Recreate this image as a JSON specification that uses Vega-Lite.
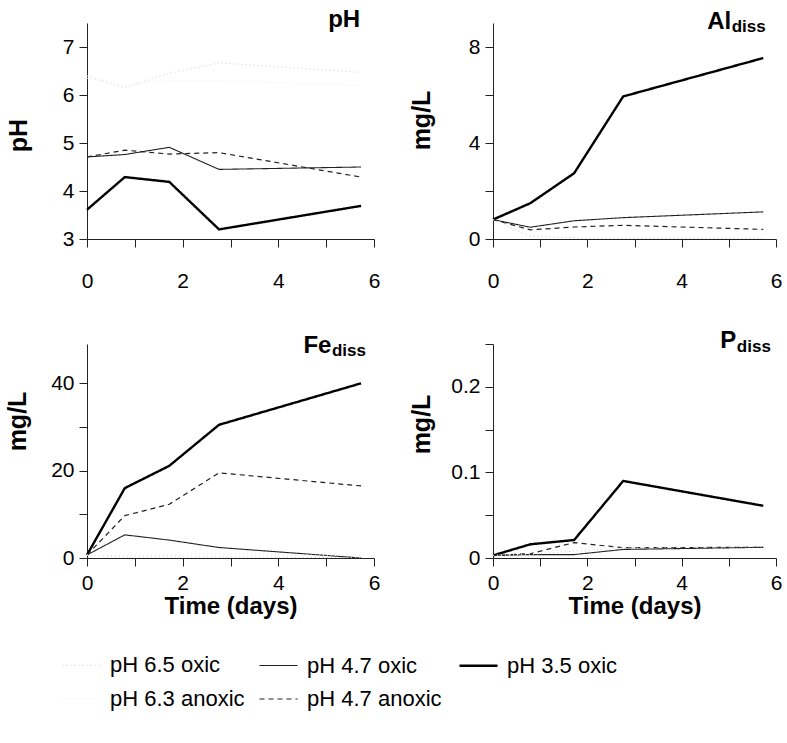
{
  "$schema": "https://vega.github.io/schema/vega-lite/v6.json",
  "padding": {"left": 5, "top": 8, "right": 5, "bottom": 5},
  "background": "white",
  "datasets": {
    "d": [
      {"panel": "pH", "series": "pH 3.5 oxic", "t": 0, "v": 3.61},
      {"panel": "pH", "series": "pH 3.5 oxic", "t": 0.79, "v": 4.29},
      {"panel": "pH", "series": "pH 3.5 oxic", "t": 1.72, "v": 4.19},
      {"panel": "pH", "series": "pH 3.5 oxic", "t": 2.76, "v": 3.2},
      {"panel": "pH", "series": "pH 3.5 oxic", "t": 5.73, "v": 3.69},
      {"panel": "pH", "series": "pH 4.7 oxic", "t": 0, "v": 4.71},
      {"panel": "pH", "series": "pH 4.7 oxic", "t": 0.79, "v": 4.76},
      {"panel": "pH", "series": "pH 4.7 oxic", "t": 1.72, "v": 4.91},
      {"panel": "pH", "series": "pH 4.7 oxic", "t": 2.76, "v": 4.45},
      {"panel": "pH", "series": "pH 4.7 oxic", "t": 5.73, "v": 4.5},
      {"panel": "pH", "series": "pH 4.7 anoxic", "t": 0, "v": 4.71},
      {"panel": "pH", "series": "pH 4.7 anoxic", "t": 0.79, "v": 4.85},
      {"panel": "pH", "series": "pH 4.7 anoxic", "t": 1.72, "v": 4.77},
      {"panel": "pH", "series": "pH 4.7 anoxic", "t": 2.76, "v": 4.8},
      {"panel": "pH", "series": "pH 4.7 anoxic", "t": 5.73, "v": 4.29},
      {"panel": "pH", "series": "pH 6.5 oxic", "t": 0, "v": 6.4},
      {"panel": "pH", "series": "pH 6.5 oxic", "t": 0.79, "v": 6.15},
      {"panel": "pH", "series": "pH 6.5 oxic", "t": 1.72, "v": 6.45},
      {"panel": "pH", "series": "pH 6.5 oxic", "t": 2.76, "v": 6.67},
      {"panel": "pH", "series": "pH 6.5 oxic", "t": 5.73, "v": 6.47},
      {"panel": "pH", "series": "pH 6.3 anoxic", "t": 0, "v": 6.35},
      {"panel": "pH", "series": "pH 6.3 anoxic", "t": 0.79, "v": 6.2},
      {"panel": "pH", "series": "pH 6.3 anoxic", "t": 1.72, "v": 6.3},
      {"panel": "pH", "series": "pH 6.3 anoxic", "t": 2.76, "v": 6.3},
      {"panel": "pH", "series": "pH 6.3 anoxic", "t": 5.73, "v": 6.2},
      {"panel": "Al", "series": "pH 3.5 oxic", "t": 0, "v": 0.81},
      {"panel": "Al", "series": "pH 3.5 oxic", "t": 0.79, "v": 1.49},
      {"panel": "Al", "series": "pH 3.5 oxic", "t": 1.72, "v": 2.74},
      {"panel": "Al", "series": "pH 3.5 oxic", "t": 2.76, "v": 5.94},
      {"panel": "Al", "series": "pH 3.5 oxic", "t": 5.73, "v": 7.54},
      {"panel": "Al", "series": "pH 4.7 oxic", "t": 0, "v": 0.81},
      {"panel": "Al", "series": "pH 4.7 oxic", "t": 0.79, "v": 0.49},
      {"panel": "Al", "series": "pH 4.7 oxic", "t": 1.72, "v": 0.76},
      {"panel": "Al", "series": "pH 4.7 oxic", "t": 2.76, "v": 0.89},
      {"panel": "Al", "series": "pH 4.7 oxic", "t": 5.73, "v": 1.13},
      {"panel": "Al", "series": "pH 4.7 anoxic", "t": 0, "v": 0.81},
      {"panel": "Al", "series": "pH 4.7 anoxic", "t": 0.79, "v": 0.38},
      {"panel": "Al", "series": "pH 4.7 anoxic", "t": 1.72, "v": 0.5},
      {"panel": "Al", "series": "pH 4.7 anoxic", "t": 2.76, "v": 0.57},
      {"panel": "Al", "series": "pH 4.7 anoxic", "t": 5.73, "v": 0.4},
      {"panel": "Al", "series": "pH 6.5 oxic", "t": 0, "v": 0.81},
      {"panel": "Al", "series": "pH 6.5 oxic", "t": 0.79, "v": 0.1},
      {"panel": "Al", "series": "pH 6.5 oxic", "t": 1.72, "v": 0.05},
      {"panel": "Al", "series": "pH 6.5 oxic", "t": 2.76, "v": 0.03},
      {"panel": "Al", "series": "pH 6.5 oxic", "t": 5.73, "v": 0.02},
      {"panel": "Al", "series": "pH 6.3 anoxic", "t": 0, "v": 0.81},
      {"panel": "Al", "series": "pH 6.3 anoxic", "t": 0.79, "v": 0.15},
      {"panel": "Al", "series": "pH 6.3 anoxic", "t": 1.72, "v": 0.06},
      {"panel": "Al", "series": "pH 6.3 anoxic", "t": 2.76, "v": 0.05},
      {"panel": "Al", "series": "pH 6.3 anoxic", "t": 5.73, "v": 0.03},
      {"panel": "Fe", "series": "pH 3.5 oxic", "t": 0, "v": 0.7},
      {"panel": "Fe", "series": "pH 3.5 oxic", "t": 0.79, "v": 16.0},
      {"panel": "Fe", "series": "pH 3.5 oxic", "t": 1.72, "v": 21.1},
      {"panel": "Fe", "series": "pH 3.5 oxic", "t": 2.76, "v": 30.5},
      {"panel": "Fe", "series": "pH 3.5 oxic", "t": 5.73, "v": 40.0},
      {"panel": "Fe", "series": "pH 4.7 oxic", "t": 0, "v": 0.7},
      {"panel": "Fe", "series": "pH 4.7 oxic", "t": 0.79, "v": 5.3},
      {"panel": "Fe", "series": "pH 4.7 oxic", "t": 1.72, "v": 4.1},
      {"panel": "Fe", "series": "pH 4.7 oxic", "t": 2.76, "v": 2.4},
      {"panel": "Fe", "series": "pH 4.7 oxic", "t": 5.73, "v": 0.0},
      {"panel": "Fe", "series": "pH 4.7 anoxic", "t": 0, "v": 0.7},
      {"panel": "Fe", "series": "pH 4.7 anoxic", "t": 0.79, "v": 9.7},
      {"panel": "Fe", "series": "pH 4.7 anoxic", "t": 1.72, "v": 12.3},
      {"panel": "Fe", "series": "pH 4.7 anoxic", "t": 2.76, "v": 19.5},
      {"panel": "Fe", "series": "pH 4.7 anoxic", "t": 5.73, "v": 16.5},
      {"panel": "Fe", "series": "pH 6.5 oxic", "t": 0, "v": 0.7},
      {"panel": "Fe", "series": "pH 6.5 oxic", "t": 0.79, "v": 0.2},
      {"panel": "Fe", "series": "pH 6.5 oxic", "t": 1.72, "v": 0.2},
      {"panel": "Fe", "series": "pH 6.5 oxic", "t": 2.76, "v": 0.2},
      {"panel": "Fe", "series": "pH 6.5 oxic", "t": 5.73, "v": 0.1},
      {"panel": "Fe", "series": "pH 6.3 anoxic", "t": 0, "v": 0.7},
      {"panel": "Fe", "series": "pH 6.3 anoxic", "t": 0.79, "v": 0.5},
      {"panel": "Fe", "series": "pH 6.3 anoxic", "t": 1.72, "v": 0.8},
      {"panel": "Fe", "series": "pH 6.3 anoxic", "t": 2.76, "v": 1.0},
      {"panel": "Fe", "series": "pH 6.3 anoxic", "t": 5.73, "v": 0.5},
      {"panel": "P", "series": "pH 3.5 oxic", "t": 0, "v": 0.003},
      {"panel": "P", "series": "pH 3.5 oxic", "t": 0.79, "v": 0.016},
      {"panel": "P", "series": "pH 3.5 oxic", "t": 1.72, "v": 0.021},
      {"panel": "P", "series": "pH 3.5 oxic", "t": 2.76, "v": 0.09},
      {"panel": "P", "series": "pH 3.5 oxic", "t": 5.73, "v": 0.061},
      {"panel": "P", "series": "pH 4.7 oxic", "t": 0, "v": 0.003},
      {"panel": "P", "series": "pH 4.7 oxic", "t": 0.79, "v": 0.004},
      {"panel": "P", "series": "pH 4.7 oxic", "t": 1.72, "v": 0.004},
      {"panel": "P", "series": "pH 4.7 oxic", "t": 2.76, "v": 0.01},
      {"panel": "P", "series": "pH 4.7 oxic", "t": 5.73, "v": 0.0125},
      {"panel": "P", "series": "pH 4.7 anoxic", "t": 0, "v": 0.003},
      {"panel": "P", "series": "pH 4.7 anoxic", "t": 0.79, "v": 0.005},
      {"panel": "P", "series": "pH 4.7 anoxic", "t": 1.72, "v": 0.018},
      {"panel": "P", "series": "pH 4.7 anoxic", "t": 2.76, "v": 0.012},
      {"panel": "P", "series": "pH 4.7 anoxic", "t": 5.73, "v": 0.0125},
      {"panel": "P", "series": "pH 6.5 oxic", "t": 0, "v": 0.003},
      {"panel": "P", "series": "pH 6.5 oxic", "t": 0.79, "v": 0.004},
      {"panel": "P", "series": "pH 6.5 oxic", "t": 1.72, "v": 0.008},
      {"panel": "P", "series": "pH 6.5 oxic", "t": 2.76, "v": 0.012},
      {"panel": "P", "series": "pH 6.5 oxic", "t": 5.73, "v": 0.013},
      {"panel": "P", "series": "pH 6.3 anoxic", "t": 0, "v": 0.003},
      {"panel": "P", "series": "pH 6.3 anoxic", "t": 0.79, "v": 0.005},
      {"panel": "P", "series": "pH 6.3 anoxic", "t": 1.72, "v": 0.012},
      {"panel": "P", "series": "pH 6.3 anoxic", "t": 2.76, "v": 0.013},
      {"panel": "P", "series": "pH 6.3 anoxic", "t": 5.73, "v": 0.014}
    ]
  },
  "columns": 2,
  "bounds": "flush",
  "spacing": {"row": 105, "column": 119},
  "concat": [
    {
      "width": 287, "height": 216,
      "layer": [
        {
          "data": {"name": "d"},
          "transform": [{"filter": "datum.panel == 'pH'"}],
          "mark": {"type": "line"},
          "encoding": {
            "x": {"field": "t", "type": "quantitative", "scale": {"domain": [0, 6], "nice": false},
                  "axis": {"title": null, "values": [0,1,2,3,4,5,6], "labelPadding": 23, "labelExpr": "datum.value % 2 == 0 ? datum.label : ''"}},
            "y": {"field": "v", "type": "quantitative", "scale": {"domain": [3, 7.5], "nice": false, "zero": false},
                  "axis": {"title": "pH", "values": [3,3.5,4,4.5,5,5.5,6,6.5,7,7.5], "labelExpr": "datum.value % 1 == 0 ? datum.label : ''", "titleX": -56, "titleY": 112}},
            "color": {"field": "series", "type": "nominal", "scale": {"domain": ["pH 6.5 oxic","pH 4.7 oxic","pH 3.5 oxic","pH 6.3 anoxic","pH 4.7 anoxic"], "range": ["#d0d0d0","#222222","#000000","#ebebeb","#222222"]}},
            "strokeDash": {"field": "series", "type": "nominal", "scale": {"domain": ["pH 6.5 oxic","pH 4.7 oxic","pH 3.5 oxic","pH 6.3 anoxic","pH 4.7 anoxic"], "range": [[1,3],[1,0],[1,0],[1,3],[5,4]]}},
            "strokeWidth": {"field": "series", "type": "nominal", "scale": {"type": "ordinal", "domain": ["pH 6.5 oxic","pH 4.7 oxic","pH 3.5 oxic","pH 6.3 anoxic","pH 4.7 anoxic"], "range": [1,1.1,2.4,1,1.2]}}
          }
        },
        {
          "data": {"values": [{}]},
          "mark": {"type": "text", "text": "pH", "align": "right", "baseline": "alphabetic", "fontSize": 24, "fontWeight": "bold", "font": "Liberation Sans"},
          "encoding": {"x": {"datum": 5.71, "type": "quantitative"}, "y": {"datum": 7.41, "type": "quantitative"}}
        }
      ]
    },
    {
      "width": 283, "height": 216,
      "layer": [
        {
          "data": {"name": "d"},
          "transform": [{"filter": "datum.panel == 'Al'"}],
          "mark": {"type": "line"},
          "encoding": {
            "x": {"field": "t", "type": "quantitative", "scale": {"domain": [0, 6], "nice": false},
                  "axis": {"title": null, "values": [0,1,2,3,4,5,6], "labelPadding": 23, "labelExpr": "datum.value % 2 == 0 ? datum.label : ''"}},
            "y": {"field": "v", "type": "quantitative", "scale": {"domain": [0, 9], "nice": false},
                  "axis": {"title": "mg/L", "values": [0,1,2,3,4,5,6,7,8,9], "labelExpr": "datum.value % 4 == 0 ? datum.label : ''", "titleX": -59, "titleY": 97}},
            "color": {"field": "series", "type": "nominal", "scale": {"domain": ["pH 6.5 oxic","pH 4.7 oxic","pH 3.5 oxic","pH 6.3 anoxic","pH 4.7 anoxic"], "range": ["#d0d0d0","#222222","#000000","#ebebeb","#222222"]}},
            "strokeDash": {"field": "series", "type": "nominal", "scale": {"domain": ["pH 6.5 oxic","pH 4.7 oxic","pH 3.5 oxic","pH 6.3 anoxic","pH 4.7 anoxic"], "range": [[1,3],[1,0],[1,0],[1,3],[5,4]]}},
            "strokeWidth": {"field": "series", "type": "nominal", "scale": {"type": "ordinal", "domain": ["pH 6.5 oxic","pH 4.7 oxic","pH 3.5 oxic","pH 6.3 anoxic","pH 4.7 anoxic"], "range": [1,1.1,2.4,1,1.2]}}
          }
        },
        {
          "data": {"values": [{}]},
          "mark": {"type": "text", "text": "Al", "align": "right", "baseline": "alphabetic", "fontSize": 24, "fontWeight": "bold", "font": "Liberation Sans"},
          "encoding": {"x": {"datum": 5.05, "type": "quantitative"}, "y": {"datum": 8.76, "type": "quantitative"}}
        },
        {
          "data": {"values": [{}]},
          "mark": {"type": "text", "text": "diss", "align": "left", "baseline": "alphabetic", "fontSize": 17, "fontWeight": "bold", "font": "Liberation Sans"},
          "encoding": {"x": {"datum": 5.06, "type": "quantitative"}, "y": {"datum": 8.62, "type": "quantitative"}}
        }
      ]
    },
    {
      "width": 287, "height": 214,
      "layer": [
        {
          "data": {"name": "d"},
          "transform": [{"filter": "datum.panel == 'Fe'"}],
          "mark": {"type": "line"},
          "encoding": {
            "x": {"field": "t", "type": "quantitative", "scale": {"domain": [0, 6], "nice": false},
                  "axis": {"title": "Time (days)", "values": [0,1,2,3,4,5,6], "labelPadding": 6, "titlePadding": 1, "labelExpr": "datum.value % 2 == 0 ? datum.label : ''"}},
            "y": {"field": "v", "type": "quantitative", "scale": {"domain": [0, 49], "nice": false},
                  "axis": {"title": "mg/L", "values": [0,10,20,30,40], "labelExpr": "datum.value % 20 == 0 ? datum.label : ''", "titleX": -57, "titleY": 77}},
            "color": {"field": "series", "type": "nominal", "scale": {"domain": ["pH 6.5 oxic","pH 4.7 oxic","pH 3.5 oxic","pH 6.3 anoxic","pH 4.7 anoxic"], "range": ["#d0d0d0","#222222","#000000","#ebebeb","#222222"]}},
            "strokeDash": {"field": "series", "type": "nominal", "scale": {"domain": ["pH 6.5 oxic","pH 4.7 oxic","pH 3.5 oxic","pH 6.3 anoxic","pH 4.7 anoxic"], "range": [[1,3],[1,0],[1,0],[1,3],[5,4]]}},
            "strokeWidth": {"field": "series", "type": "nominal", "scale": {"type": "ordinal", "domain": ["pH 6.5 oxic","pH 4.7 oxic","pH 3.5 oxic","pH 6.3 anoxic","pH 4.7 anoxic"], "range": [1,1.1,2.4,1,1.2]}}
          }
        },
        {
          "data": {"values": [{}]},
          "mark": {"type": "text", "text": "Fe", "align": "right", "baseline": "alphabetic", "fontSize": 24, "fontWeight": "bold", "font": "Liberation Sans"},
          "encoding": {"x": {"datum": 5.11, "type": "quantitative"}, "y": {"datum": 47.0, "type": "quantitative"}}
        },
        {
          "data": {"values": [{}]},
          "mark": {"type": "text", "text": "diss", "align": "left", "baseline": "alphabetic", "fontSize": 17, "fontWeight": "bold", "font": "Liberation Sans"},
          "encoding": {"x": {"datum": 5.12, "type": "quantitative"}, "y": {"datum": 46.3, "type": "quantitative"}}
        }
      ]
    },
    {
      "width": 283, "height": 214,
      "layer": [
        {
          "data": {"name": "d"},
          "transform": [{"filter": "datum.panel == 'P'"}],
          "mark": {"type": "line"},
          "encoding": {
            "x": {"field": "t", "type": "quantitative", "scale": {"domain": [0, 6], "nice": false},
                  "axis": {"title": "Time (days)", "values": [0,1,2,3,4,5,6], "labelPadding": 6, "titlePadding": 1, "labelExpr": "datum.value % 2 == 0 ? datum.label : ''"}},
            "y": {"field": "v", "type": "quantitative", "scale": {"domain": [0, 0.25], "nice": false},
                  "axis": {"title": "mg/L", "values": [0,0.05,0.1,0.15,0.2,0.25], "format": "~g", "labelExpr": "datum.value == 0 || datum.value == 0.1 || datum.value == 0.2 ? datum.label : ''", "titleX": -59, "titleY": 80}},
            "color": {"field": "series", "type": "nominal", "scale": {"domain": ["pH 6.5 oxic","pH 4.7 oxic","pH 3.5 oxic","pH 6.3 anoxic","pH 4.7 anoxic"], "range": ["#d0d0d0","#222222","#000000","#ebebeb","#222222"]}},
            "strokeDash": {"field": "series", "type": "nominal", "scale": {"domain": ["pH 6.5 oxic","pH 4.7 oxic","pH 3.5 oxic","pH 6.3 anoxic","pH 4.7 anoxic"], "range": [[1,3],[1,0],[1,0],[1,3],[5,4]]}},
            "strokeWidth": {"field": "series", "type": "nominal", "scale": {"type": "ordinal", "domain": ["pH 6.5 oxic","pH 4.7 oxic","pH 3.5 oxic","pH 6.3 anoxic","pH 4.7 anoxic"], "range": [1,1.1,2.4,1,1.2]}}
          }
        },
        {
          "data": {"values": [{}]},
          "mark": {"type": "text", "text": "P", "align": "right", "baseline": "alphabetic", "fontSize": 24, "fontWeight": "bold", "font": "Liberation Sans"},
          "encoding": {"x": {"datum": 5.16, "type": "quantitative"}, "y": {"datum": 0.2453, "type": "quantitative"}}
        },
        {
          "data": {"values": [{}]},
          "mark": {"type": "text", "text": "diss", "align": "left", "baseline": "alphabetic", "fontSize": 17, "fontWeight": "bold", "font": "Liberation Sans"},
          "encoding": {"x": {"datum": 5.17, "type": "quantitative"}, "y": {"datum": 0.241, "type": "quantitative"}}
        }
      ]
    }
  ],
  "resolve": {"scale": {"x": "independent", "y": "independent", "color": "shared", "strokeDash": "shared", "strokeWidth": "shared"}},
  "config": {
    "view": {"stroke": null},
    "font": "Liberation Sans",
    "axis": {
      "grid": false,
      "domainColor": "#222222",
      "tickColor": "#222222",
      "tickSize": 8,
      "labelColor": "#000000",
      "labelFont": "Liberation Sans",
      "labelFontSize": 21,
      "labelFontWeight": "normal",
      "titleColor": "#000000",
      "titleFont": "Liberation Sans",
      "titleFontSize": 25,
      "titleFontWeight": "bold"
    },
    "axisX": {"labelFlush": false, "titleFontSize": 24},
    "axisY": {"labelPadding": 5},
    "legend": {
      "orient": "none",
      "legendX": -26,
      "legendY": 622,
      "columns": 3,
      "direction": "horizontal",
      "title": null,
      "symbolType": "stroke",
      "symbolSize": 1444,
      "labelFont": "Liberation Sans",
      "labelFontSize": 22,
      "labelColor": "#000000",
      "labelOffset": 8,
      "columnPadding": 12,
      "rowPadding": 2
    },
    "line": {"strokeCap": "butt", "strokeJoin": "miter"}
  },
  "encoding": {}
}
